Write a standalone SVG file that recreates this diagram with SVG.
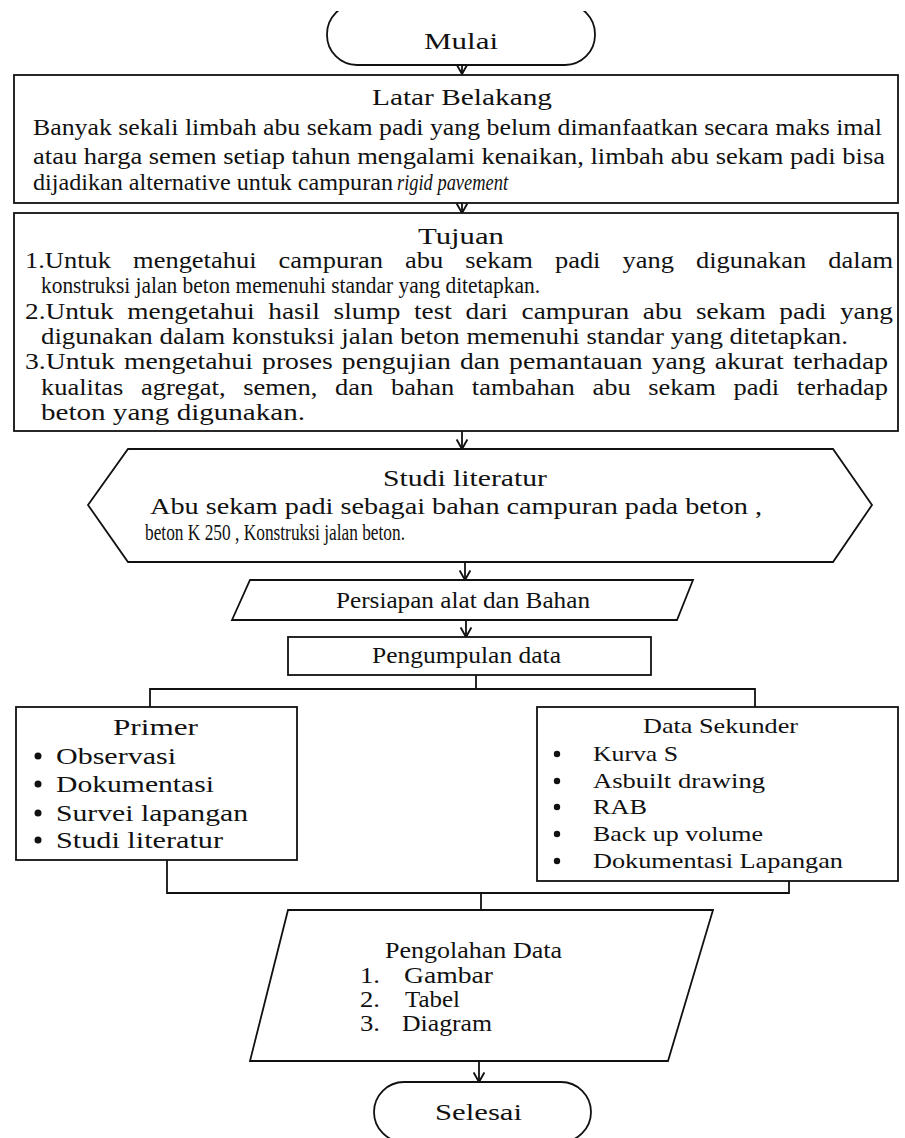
<svg xmlns="http://www.w3.org/2000/svg" width="905" height="1138" viewBox="0 0 905 1138">
<style>
.s{fill:#fff;stroke:#111;stroke-width:1.8}
.c{fill:none;stroke:#111;stroke-width:1.8}
text{font-family:"Liberation Serif","Times New Roman",serif;font-size:24px;fill:#111}
.p{font-size:24px}
.k{font-size:22px}
</style>
<defs>
<marker id="av" markerUnits="userSpaceOnUse" markerWidth="12" markerHeight="12" refX="9" refY="5" orient="auto" viewBox="0 0 10 10">
<path d="M1,0.5 L9,5 L1,9.5" fill="none" stroke="#111" stroke-width="1.6"/>
</marker>
<clipPath id="topclip"><rect x="0" y="11" width="905" height="200"/></clipPath>
</defs>

<g id="connectors">
<line class="c" x1="462" y1="65" x2="462" y2="74" marker-end="url(#av)"/>
<line class="c" x1="462" y1="203" x2="462" y2="213" marker-end="url(#av)"/>
<line class="c" x1="462" y1="431" x2="462" y2="449" marker-end="url(#av)"/>
<line class="c" x1="465" y1="562" x2="465" y2="580" marker-end="url(#av)"/>
<line class="c" x1="466" y1="620" x2="466" y2="637" marker-end="url(#av)"/>
<polyline class="c" points="476,675 476,689"/>
<polyline class="c" points="150,707 150,689 755,689 755,707"/>
<polyline class="c" points="167,860 167,893 789,893 789,881"/>
<polyline class="c" points="481,893 481,910"/>
<line class="c" x1="479" y1="1061" x2="479" y2="1082" marker-end="url(#av)"/>
</g>

<g id="mulai">
<rect class="s" x="327" y="4" width="268" height="61" rx="30" clip-path="url(#topclip)"/>
<text x="424" y="49" textLength="74" lengthAdjust="spacingAndGlyphs">Mulai</text>
</g>

<g id="latar">
<rect class="s" x="14" y="75" width="884" height="128"/>
<text x="372" y="105" textLength="180" lengthAdjust="spacingAndGlyphs">Latar Belakang</text>
<text x="33" y="135" textLength="849" lengthAdjust="spacingAndGlyphs">Banyak sekali limbah abu sekam padi yang belum dimanfaatkan secara maks imal</text>
<text x="33" y="164" textLength="852" lengthAdjust="spacingAndGlyphs">atau harga semen setiap tahun mengalami kenaikan, limbah abu sekam padi bisa</text>
<text x="33" y="190" textLength="360" lengthAdjust="spacingAndGlyphs">dijadikan alternative untuk campuran</text>
<text x="397" y="190" font-style="italic" textLength="111" lengthAdjust="spacingAndGlyphs">rigid pavement</text>
</g>

<g id="tujuan">
<rect class="s" x="14" y="213" width="884" height="218"/>
<text x="418" y="244" textLength="86" lengthAdjust="spacingAndGlyphs">Tujuan</text>
<text x="25" y="268" word-spacing="14" textLength="868" lengthAdjust="spacingAndGlyphs">1.Untuk mengetahui campuran abu sekam padi yang digunakan dalam</text>
<text x="41" y="293" textLength="499" lengthAdjust="spacingAndGlyphs">konstruksi jalan beton memenuhi standar yang ditetapkan.</text>
<text x="25" y="319" word-spacing="6" textLength="868" lengthAdjust="spacingAndGlyphs">2.Untuk mengetahui hasil slump test dari campuran abu sekam padi yang</text>
<text x="41" y="344" textLength="807" lengthAdjust="spacingAndGlyphs">digunakan dalam konstuksi jalan beton memenuhi standar yang ditetapkan.</text>
<text x="25" y="369" word-spacing="2" textLength="863" lengthAdjust="spacingAndGlyphs">3.Untuk mengetahui proses pengujian dan pemantauan yang akurat terhadap</text>
<text x="41" y="395" word-spacing="10" textLength="847" lengthAdjust="spacingAndGlyphs">kualitas agregat, semen, dan bahan tambahan abu sekam padi terhadap</text>
<text x="41" y="420" textLength="264" lengthAdjust="spacingAndGlyphs">beton yang digunakan.</text>
</g>

<g id="studi">
<polygon class="s" points="88,505 128,449 833,449 872,505 833,562 128,562"/>
<text x="383" y="486" textLength="164" lengthAdjust="spacingAndGlyphs">Studi literatur</text>
<text x="150" y="514" textLength="612" lengthAdjust="spacingAndGlyphs">Abu sekam padi sebagai bahan campuran pada beton ,</text>
<text x="145" y="540" textLength="260" lengthAdjust="spacingAndGlyphs">beton K 250 , Konstruksi jalan beton.</text>
</g>

<g id="persiapan">
<polygon class="s" points="250,580 693,580 677,620 232,620"/>
<text x="336" y="608" textLength="254" lengthAdjust="spacingAndGlyphs">Persiapan alat dan Bahan</text>
</g>

<g id="pengumpulan">
<rect class="s" x="288" y="637" width="363" height="38"/>
<text x="372" y="663" textLength="189" lengthAdjust="spacingAndGlyphs">Pengumpulan data</text>
</g>

<g id="primer">
<rect class="s" x="16" y="707" width="281" height="153"/>
<text class="p" x="113" y="735" textLength="85" lengthAdjust="spacingAndGlyphs">Primer</text>
<circle cx="38" cy="756" r="3.5" fill="#111"/>
<circle cx="38" cy="784" r="3.5" fill="#111"/>
<circle cx="38" cy="813" r="3.5" fill="#111"/>
<circle cx="38" cy="840" r="3.5" fill="#111"/>
<text class="p" x="56" y="764" textLength="120" lengthAdjust="spacingAndGlyphs">Observasi</text>
<text class="p" x="56" y="792" textLength="158" lengthAdjust="spacingAndGlyphs">Dokumentasi</text>
<text class="p" x="56" y="821" textLength="192" lengthAdjust="spacingAndGlyphs">Survei lapangan</text>
<text class="p" x="56" y="848" textLength="167" lengthAdjust="spacingAndGlyphs">Studi literatur</text>
</g>

<g id="sekunder">
<rect class="s" x="537" y="707" width="361" height="174"/>
<text class="k" x="643" y="733" textLength="155" lengthAdjust="spacingAndGlyphs">Data Sekunder</text>
<circle cx="557" cy="754" r="3.2" fill="#111"/>
<circle cx="557" cy="781" r="3.2" fill="#111"/>
<circle cx="557" cy="807" r="3.2" fill="#111"/>
<circle cx="557" cy="834" r="3.2" fill="#111"/>
<circle cx="557" cy="861" r="3.2" fill="#111"/>
<text class="k" x="593" y="761" textLength="85" lengthAdjust="spacingAndGlyphs">Kurva S</text>
<text class="k" x="593" y="788" textLength="172" lengthAdjust="spacingAndGlyphs">Asbuilt drawing</text>
<text class="k" x="593" y="814" textLength="54" lengthAdjust="spacingAndGlyphs">RAB</text>
<text class="k" x="593" y="841" textLength="170" lengthAdjust="spacingAndGlyphs">Back up volume</text>
<text class="k" x="593" y="868" textLength="250" lengthAdjust="spacingAndGlyphs">Dokumentasi Lapangan</text>
</g>

<g id="pengolahan">
<polygon class="s" points="288,910 713,910 668,1061 250,1061"/>
<text x="385" y="958" textLength="177" lengthAdjust="spacingAndGlyphs">Pengolahan Data</text>
<text x="360" y="983" textLength="20" lengthAdjust="spacingAndGlyphs">1.</text>
<text x="360" y="1007" textLength="20" lengthAdjust="spacingAndGlyphs">2.</text>
<text x="360" y="1031" textLength="20" lengthAdjust="spacingAndGlyphs">3.</text>
<text x="404" y="983" textLength="89" lengthAdjust="spacingAndGlyphs">Gambar</text>
<text x="405" y="1007" textLength="55" lengthAdjust="spacingAndGlyphs">Tabel</text>
<text x="402" y="1031" textLength="90" lengthAdjust="spacingAndGlyphs">Diagram</text>
</g>

<g id="selesai">
<rect class="s" x="374" y="1082" width="217" height="60" rx="30"/>
<text x="435" y="1120" textLength="87" lengthAdjust="spacingAndGlyphs">Selesai</text>
</g>
</svg>
